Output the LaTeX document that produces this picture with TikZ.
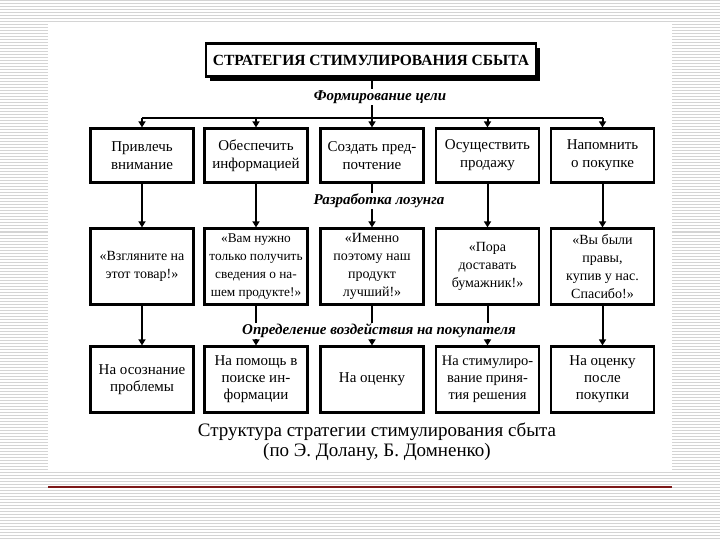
\documentclass[tikz,border=0pt]{standalone}
\usepackage{fontspec}
\setmainfont{Liberation Serif}
\usetikzlibrary{arrows.meta,shadows}
\definecolor{stripe}{RGB}{212,212,212}
\definecolor{rule}{RGB}{125,25,25}
\begin{document}
\begin{tikzpicture}[x=1pt,y=-1pt,
  box/.style={draw=black, line width=2.2pt, fill=white, minimum width=103pt,
    align=center, inner sep=0pt, font=\fontsize{15}{18}\selectfont},
  boxs/.style={box, font=\fontsize{14}{18}\selectfont},
  lbl/.style={fill=white, inner sep=1pt, font=\fontsize{15}{17}\selectfont\bfseries\itshape},
  con/.style={line width=2pt, -{Triangle[length=6pt,width=7pt]}},
  plain/.style={line width=2pt},
]
\useasboundingbox (0,0) rectangle (720,540);
% background stripes
\foreach \k in {0,...,180} {
  \draw[stripe, line width=1pt] (0,\k*3+1) -- (720,\k*3+1);
}
\fill[white] (48,23) rectangle (672,472);
\draw[rule, line width=1.5pt] (48,487) -- (672,487);

% title
\node[draw=black, line width=2.2pt, fill=white, minimum width=330pt, minimum height=33pt,
  font=\fontsize{15.5}{18}\selectfont\bfseries,
  drop shadow={shadow xshift=4pt, shadow yshift=-5pt, fill=black, opacity=1}]
  (title) at (371,60) {СТРАТЕГИЯ СТИМУЛИРОВАНИЯ СБЫТА};

% row 1
\node[box, minimum height=54pt] (b11) at (142,155.5) {Привлечь\\внимание};
\node[box, minimum height=54pt] (b12) at (256,155.5) {Обеспечить\\информацией};
\node[box, minimum height=54pt] (b13) at (372,155.5) {Создать пред-\\почтение};
\node[box, minimum height=54pt] (b14) at (487.5,155.5) {Осуществить\\продажу};
\node[box, minimum height=54pt] (b15) at (602.5,155.5) {Напомнить\\о покупке};

% row 2
\node[boxs, minimum height=76pt] (b21) at (142,266.5) {«Взгляните на\\этот товар!»};
\node[boxs, minimum height=76pt, font=\fontsize{13.3}{18}\selectfont] (b22) at (256,266.5) {«Вам нужно\\только получить\\сведения о на-\\шем продукте!»};
\node[boxs, minimum height=76pt] (b23) at (372,266.5) {«Именно\\поэтому наш\\продукт\\лучший!»};
\node[boxs, minimum height=76pt] (b24) at (487.5,266.5) {«Пора\\доставать\\бумажник!»};
\node[boxs, minimum height=76pt] (b25) at (602.5,266.5) {«Вы были\\правы,\\купив у нас.\\Спасибо!»};

% row 3
\node[box, minimum height=66pt, font=\fontsize{15}{17}\selectfont] (b31) at (142,379.5) {На осознание\\проблемы};
\node[box, minimum height=66pt, font=\fontsize{15}{17}\selectfont] (b32) at (256,379.5) {На помощь в\\поиске ин-\\формации};
\node[box, minimum height=66pt, font=\fontsize{15}{17}\selectfont] (b33) at (372,379.5) {На оценку};
\node[box, minimum height=66pt, font=\fontsize{14.5}{17}\selectfont] (b34) at (487.5,379.5) {На стимулиро-\\вание приня-\\тия решения};
\node[box, minimum height=66pt, font=\fontsize{15}{17}\selectfont] (b35) at (602.5,379.5) {На оценку\\после\\покупки};

% connectors
\coordinate (busL) at (142,118);
\coordinate (busR) at (602.5,118);
\draw[plain] (busL) -- (busR);
\draw[con] (title.south -| b13.north) -- (b13.north);
\draw[con] (busL) -- (b11.north);
\draw[con] (b12.north |- busL) -- (b12.north);
\draw[con] (b14.north |- busL) -- (b14.north);
\draw[con] (busR) -- (b15.north);
\foreach \i in {1,...,5} {
  \draw[con] (b1\i.south) -- (b2\i.north);
  \draw[con] (b2\i.south) -- (b3\i.north);
}

% labels
\node[lbl] (l1) at (380,97) {Формирование цели};
\node[lbl] (l2) at (379,201) {Разработка лозунга};
\node[lbl] (l3) at (379,331) {Определение воздействия на покупателя};

% caption
\node[align=center, font=\fontsize{19}{20}\selectfont] (cap) at (377,442)
  {Структура стратегии стимулирования сбыта\\(по Э. Долану, Б. Домненко)};
\end{tikzpicture}
\end{document}
